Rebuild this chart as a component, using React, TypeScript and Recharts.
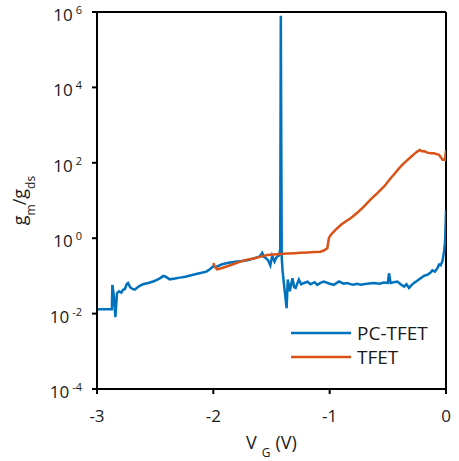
import React from "react";
import { LineChart, Line, XAxis, YAxis, ReferenceLine, Legend } from "recharts";

// gate voltage (V) and gm/gds
const pcVg = [
  -3.0, -2.95, -2.9, -2.872, -2.868, -2.855, -2.842, -2.828, -2.81, -2.79,
  -2.776, -2.76, -2.745, -2.733, -2.715, -2.695, -2.676, -2.65, -2.63, -2.604,
  -2.56, -2.518, -2.48, -2.45, -2.43, -2.41, -2.375, -2.33, -2.289, -2.24,
  -2.174, -2.12, -2.06, -2.03, -2.0, -1.98, -1.93, -1.88, -1.84, -1.795,
  -1.75, -1.709, -1.67, -1.64, -1.6, -1.58, -1.565, -1.55, -1.53, -1.51,
  -1.494, -1.474, -1.46, -1.45, -1.435, -1.425, -1.42, -1.412, -1.405, -1.39,
  -1.37, -1.36, -1.343, -1.32, -1.305, -1.293, -1.265, -1.245, -1.22, -1.19,
  -1.165, -1.13, -1.107, -1.08, -1.05, -1.0, -0.964, -0.92, -0.88, -0.85,
  -0.8, -0.76, -0.734, -0.68, -0.62, -0.57, -0.534, -0.5, -0.49, -0.476,
  -0.45, -0.418, -0.39, -0.36, -0.34, -0.318, -0.295, -0.275, -0.245, -0.218,
  -0.19, -0.16, -0.135, -0.117, -0.095, -0.074, -0.06, -0.046, -0.03, -0.017,
  -0.008, -0.003, 0.0,
];
const pcRatio = [
  0.013, 0.013, 0.013, 0.013, 0.058, 0.03, 0.008, 0.035, 0.039, 0.036,
  0.043, 0.045, 0.06, 0.065, 0.05, 0.045, 0.043, 0.05, 0.055, 0.06,
  0.065, 0.071, 0.08, 0.09, 0.1, 0.095, 0.081, 0.085, 0.09, 0.095,
  0.107, 0.118, 0.13, 0.15, 0.18, 0.17, 0.2, 0.22, 0.23, 0.24,
  0.25, 0.26, 0.28, 0.3, 0.33, 0.41, 0.32, 0.3, 0.26, 0.19,
  0.34, 0.24, 0.3, 0.33, 0.35, 0.5, 8e5, 0.3, 0.14, 0.05,
  0.014, 0.08, 0.039, 0.087, 0.05, 0.048, 0.08, 0.06, 0.065, 0.07,
  0.06, 0.068, 0.058, 0.065, 0.071, 0.062, 0.058, 0.071, 0.062, 0.065,
  0.058, 0.062, 0.058, 0.062, 0.065, 0.062, 0.067, 0.065, 0.117, 0.065,
  0.068, 0.071, 0.06, 0.052, 0.06, 0.048, 0.058, 0.065, 0.075, 0.087,
  0.1, 0.107, 0.12, 0.14, 0.13, 0.16, 0.2, 0.19, 0.25, 0.44,
  0.8, 2.5, 5.5,
];

const tfetVg = [
  -2.0, -1.99, -1.967, -1.93, -1.88, -1.82, -1.767, -1.71, -1.652, -1.6,
  -1.537, -1.48, -1.42, -1.365, -1.3, -1.25, -1.19, -1.13, -1.08, -1.05,
  -1.02, -1.007, -0.992, -0.978, -0.95, -0.9, -0.86, -0.82, -0.76, -0.706,
  -0.65, -0.59, -0.53, -0.476, -0.44, -0.404, -0.37, -0.332, -0.3, -0.275,
  -0.25, -0.226, -0.205, -0.189, -0.16, -0.13, -0.103, -0.08, -0.06, -0.04,
  -0.031, -0.01, 0.0,
];
const tfetRatio = [
  0.22, 0.18, 0.15, 0.16, 0.18, 0.21, 0.24, 0.27, 0.29, 0.32,
  0.36, 0.37, 0.38, 0.39, 0.4, 0.41, 0.42, 0.43, 0.44, 0.47,
  0.54, 1.0, 1.2, 1.35, 1.66, 2.3, 2.8, 3.4, 4.8, 6.9,
  10.5, 15.6, 24, 39, 52, 71, 92, 118, 145, 170,
  195, 218, 200, 205, 186, 180, 178, 170, 162, 135,
  122, 120, 218,
];

const xTicks = [-3, -2, -1, 0];
const yTicks = [1e-4, 1e-2, 1, 1e2, 1e4, 1e6];

const BLUE = "#0072BD";
const ORANGE = "#D95319";
const INK = "#1a1a1a";
const FONT = "'Open Sans', sans-serif";

const pcData = pcVg.map((x, i) => ({ x, y: pcRatio[i] }));
const tfetData = tfetVg.map((x, i) => ({ x, y: tfetRatio[i] }));

// "10" with the exponent as a superscript
// eslint-disable-next-line @typescript-eslint/no-explicit-any
function PowerTick({ x, y, payload }: any) {
  const exp = Math.round(Math.log10(payload.value));
  return (
    <text x={x} y={y} dy={9} textAnchor="end" fontFamily={FONT} fontSize={17} fill={INK}>
      <tspan>10</tspan>
      <tspan dx={3} dy={-7} fontSize={11}>
        {exp}
      </tspan>
    </text>
  );
}

// eslint-disable-next-line @typescript-eslint/no-explicit-any
function YLabel({ viewBox }: any) {
  const vb = viewBox ?? { x: 0, y: 12, width: 97, height: 377 };
  const cx = vb.x + 26;
  const cy = vb.y + vb.height / 2;
  return (
    <text
      x={cx}
      y={cy}
      transform={`rotate(-90 ${cx} ${cy})`}
      textAnchor="middle"
      fontFamily={FONT}
      fontSize={18}
      fill={INK}
    >
      <tspan>g</tspan>
      <tspan dy={9} fontSize={12}>m</tspan>
      <tspan dx={-1} dy={-9}>/g</tspan>
      <tspan dy={9} fontSize={12}>ds</tspan>
    </text>
  );
}

// eslint-disable-next-line @typescript-eslint/no-explicit-any
function XLabel({ viewBox }: any) {
  const vb = viewBox ?? { x: 97, y: 389, width: 349, height: 72 };
  const cx = vb.x + vb.width / 2;
  return (
    <text x={cx} y={vb.y + 60} textAnchor="middle" fontFamily={FONT} fontSize={18} fill={INK}>
      <tspan>V</tspan>
      <tspan dx={5} dy={8} fontSize={12}>G</tspan>
      <tspan dx={5} dy={-8}>(V)</tspan>
    </text>
  );
}

// eslint-disable-next-line @typescript-eslint/no-explicit-any
function SeriesLegend({ payload }: any) {
  const items = payload ?? [];
  return (
    <svg width={160} height={56} style={{ display: "block", overflow: "visible" }}>
      {/* eslint-disable-next-line @typescript-eslint/no-explicit-any */}
      {items.map((it: any, i: number) => (
        <g key={it.value}>
          <line x1={1} x2={61} y1={11 + i * 24} y2={11 + i * 24} stroke={it.color} strokeWidth={2.5} />
          <text x={67} y={18 + i * 24} fontFamily={FONT} fontSize={19} fill={INK}>
            {it.value}
          </text>
        </g>
      ))}
    </svg>
  );
}

const AXIS = { stroke: "#000", strokeWidth: 2 };

export default function App() {
  return (
    <div style={{ position: "absolute", left: 0, top: 0, background: "#fff" }}>
      <LineChart width={459} height={461} margin={{ top: 12, right: 13, left: 0, bottom: 0 }}>
        <XAxis
          type="number"
          dataKey="x"
          domain={[-3, 0]}
          ticks={xTicks}
          interval={0}
          allowDataOverflow
          height={72}
          tickSize={5}
          tickMargin={16}
          axisLine={AXIS}
          tickLine={AXIS}
          tick={{ fill: INK, fontSize: 17, fontFamily: FONT }}
          label={<XLabel />}
        />
        <YAxis
          type="number"
          dataKey="y"
          scale="log"
          domain={[1e-4, 1e6]}
          ticks={yTicks}
          interval={0}
          allowDataOverflow
          width={97}
          tickSize={5}
          tickMargin={10}
          axisLine={AXIS}
          tickLine={AXIS}
          tick={<PowerTick />}
          label={<YLabel />}
        />
        <ReferenceLine y={1e6} stroke="#000" strokeWidth={2} ifOverflow="visible" />
        <ReferenceLine x={0} stroke="#000" strokeWidth={2} ifOverflow="visible" />
        <Line
          data={pcData}
          dataKey="y"
          name="PC-TFET"
          type="linear"
          stroke={BLUE}
          strokeWidth={2.5}
          dot={false}
          legendType="line"
          isAnimationActive={false}
        />
        <Line
          data={tfetData}
          dataKey="y"
          name="TFET"
          type="linear"
          stroke={ORANGE}
          strokeWidth={2.5}
          dot={false}
          legendType="line"
          isAnimationActive={false}
        />
        <Legend
          layout="horizontal"
          verticalAlign="middle"
          align="center"
          wrapperStyle={{ left: 290, top: 322, width: 160, height: 56 }}
          content={<SeriesLegend />}
        />
      </LineChart>
    </div>
  );
}
